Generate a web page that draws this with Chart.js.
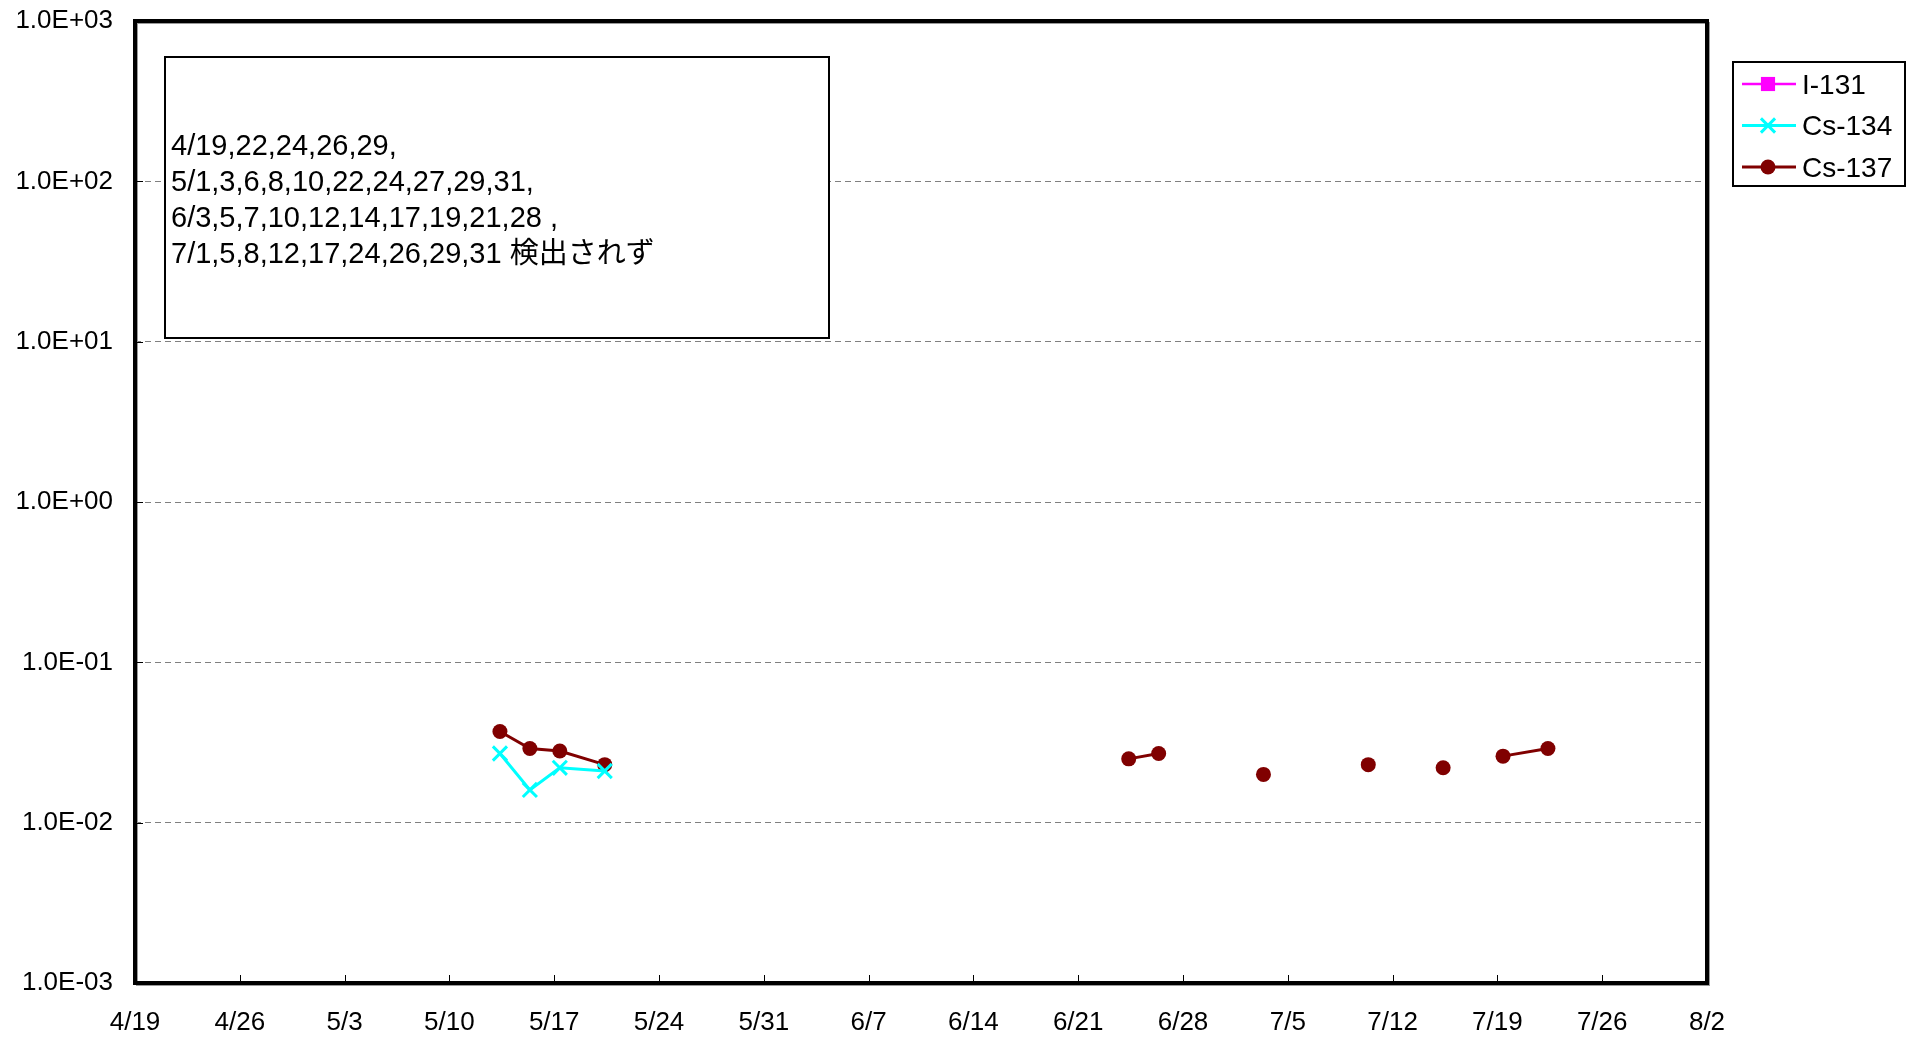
<!DOCTYPE html>
<html lang="ja">
<head>
<meta charset="utf-8">
<title>I-131 / Cs-134 / Cs-137</title>
<script src="https://cdn.jsdelivr.net/npm/chart.js@4/dist/chart.umd.min.js"></script>
<style>
    html, body { margin: 0; padding: 0; background: #fff; }
    #chart { display: block; }
</style>
</head>
<body>
<canvas id="chart" width="1914" height="1041"></canvas>
<script>
'use strict';

// 検出された日と値
var cs137Dates = ['5/13', '5/15', '5/17', '5/20', '6/24', '6/26', '7/3', '7/10', '7/15', '7/19', '7/22'];
var cs137Values = [0.037, 0.029, 0.028, 0.023, 0.025, 0.027, 0.020, 0.023, 0.022, 0.026, 0.029];
var cs134Dates = ['5/13', '5/15', '5/17', '5/20'];
var cs134Values = [0.027, 0.016, 0.022, 0.021];
var i131Dates = [];
var i131Values = [];

// 検出されなかった日 (線を切る)
var ndDates = ['4/19', '4/22', '4/24', '4/26', '4/29',
    '5/1', '5/3', '5/6', '5/8', '5/10', '5/22', '5/24', '5/27', '5/29', '5/31',
    '6/3', '6/5', '6/7', '6/10', '6/12', '6/14', '6/17', '6/19', '6/21', '6/28',
    '7/1', '7/5', '7/8', '7/12', '7/17', '7/24', '7/26', '7/29', '7/31'];

var xTickLabels = ['4/19', '4/26', '5/3', '5/10', '5/17', '5/24', '5/31', '6/7',
    '6/14', '6/21', '6/28', '7/5', '7/12', '7/19', '7/26', '8/2'];
var yTickValues = [1e-3, 1e-2, 1e-1, 1, 10, 100, 1000];
var yTickLabels = ['1.0E-03', '1.0E-02', '1.0E-01', '1.0E+00', '1.0E+01', '1.0E+02', '1.0E+03'];

var noteLines = [
    '4/19,22,24,26,29,',
    '5/1,3,6,8,10,22,24,27,29,31,',
    '6/3,5,7,10,12,14,17,19,21,28 ,',
    '7/1,5,8,12,17,24,26,29,31 検出されず'
];

var sampleHour = 9;
var FONT = '"Liberation Sans", Arial, "Noto Sans CJK JP", sans-serif';

/**
 * 4/19 からの日数
 */
function dayOf(label) {
    var p = label.split('/');
    var base = new Date(2011, 3, 19);
    var d = new Date(2011, parseInt(p[0], 10) - 1, parseInt(p[1], 10));
    return Math.round((d - base) / 86400000);
}

var allDates = ndDates.concat(cs137Dates).filter(function(d, i, arr) {
    return arr.indexOf(d) === i;
}).sort(function(a, b) {
    return dayOf(a) - dayOf(b);
});

function buildSeries(dates, values) {
    return allDates.map(function(d) {
        var i = dates.indexOf(d);
        return {
            x: dayOf(d) + sampleHour / 24,
            y: i >= 0 ? values[i] : null
        };
    });
}

// 枠線と内向きの目盛り
var framePlugin = {
    id: 'frame',
    afterDraw: function(chart) {
        var c = chart.ctx;
        var a = chart.chartArea;
        c.save();
        c.strokeStyle = '#9a9a9a';
        c.lineWidth = 2;
        c.strokeRect(a.left + 2, a.top + 2, a.right - a.left, a.bottom - a.top);
        c.strokeStyle = '#000';
        c.lineWidth = 4;
        c.strokeRect(a.left, a.top, a.right - a.left, a.bottom - a.top);

        c.lineWidth = 1;
        var xs = chart.scales.x;
        xTickLabels.forEach(function(l, i) {
            if (i === 0 || i === xTickLabels.length - 1) return;
            var px = Math.round(xs.getPixelForValue(dayOf(l))) + 0.5;
            c.beginPath();
            c.moveTo(px, a.bottom);
            c.lineTo(px, a.bottom - 8);
            c.stroke();
        });
        var ys = chart.scales.y;
        yTickValues.forEach(function(v, i) {
            if (i === 0 || i === yTickValues.length - 1) return;
            var py = Math.round(ys.getPixelForValue(v)) + 0.5;
            c.beginPath();
            c.moveTo(a.left, py);
            c.lineTo(a.left + 8, py);
            c.stroke();
        });
        c.restore();
    }
};

// 検出されずの注記
var notePlugin = {
    id: 'note',
    afterDraw: function(chart) {
        var c = chart.ctx;
        c.save();
        c.fillStyle = '#fff';
        c.fillRect(165, 57, 664, 281);
        c.strokeStyle = '#000';
        c.lineWidth = 2;
        c.strokeRect(165, 57, 664, 281);
        c.fillStyle = '#000';
        c.font = '29px ' + FONT;
        c.textBaseline = 'middle';
        noteLines.forEach(function(t, i) {
            c.fillText(t, 171, 146.5 + i * 36);
        });
        c.restore();
    }
};

// 凡例
var legendPlugin = {
    id: 'customLegend',
    afterDraw: function(chart) {
        var c = chart.ctx;
        c.save();
        c.fillStyle = '#fff';
        c.fillRect(1733, 62, 172, 124);
        c.strokeStyle = '#000';
        c.lineWidth = 2;
        c.strokeRect(1733, 62, 172, 124);
        c.font = '28px ' + FONT;
        c.textBaseline = 'middle';
        chart.data.datasets.forEach(function(ds, i) {
            var y = 84 + i * 41.5;
            c.strokeStyle = ds.borderColor;
            c.lineWidth = ds.borderWidth;
            c.beginPath();
            c.moveTo(1742, y);
            c.lineTo(1796, y);
            c.stroke();
            c.fillStyle = ds.pointBackgroundColor;
            c.lineWidth = ds.pointBorderWidth;
            Chart.helpers.drawPoint(c, {
                pointStyle: ds.pointStyle,
                radius: ds.pointRadius,
                borderWidth: ds.pointBorderWidth,
                rotation: 0
            }, 1768, y);
            c.fillStyle = '#000';
            c.fillText(ds.label, 1802, y + 2);
        });
        c.restore();
    }
};

var ctx = document.getElementById('chart');

new Chart(ctx, {
    type: 'line',
    data: {
        datasets: [{
            label: 'I-131',
            data: buildSeries(i131Dates, i131Values),
            borderColor: '#FF00FF',
            backgroundColor: '#FF00FF',
            pointBackgroundColor: '#FF00FF',
            pointBorderColor: '#FF00FF',
            pointStyle: 'rect',
            pointRadius: 10,
            pointBorderWidth: 0,
            borderWidth: 2.5
        }, {
            label: 'Cs-134',
            data: buildSeries(cs134Dates, cs134Values),
            borderColor: '#00FFFF',
            backgroundColor: '#00FFFF',
            pointBackgroundColor: '#00FFFF',
            pointBorderColor: '#00FFFF',
            pointStyle: 'crossRot',
            pointRadius: 10,
            pointBorderWidth: 3,
            borderWidth: 3
        }, {
            label: 'Cs-137',
            data: buildSeries(cs137Dates, cs137Values),
            borderColor: '#800000',
            backgroundColor: '#800000',
            pointBackgroundColor: '#800000',
            pointBorderColor: '#800000',
            pointStyle: 'circle',
            pointRadius: 7.5,
            pointBorderWidth: 0,
            borderWidth: 3
        }]
    },
    options: {
        responsive: false,
        animation: false,
        devicePixelRatio: 1,
        layout: {
            padding: { left: 0, right: 207, top: 21, bottom: 0 }
        },
        elements: {
            line: { tension: 0 }
        },
        plugins: {
            legend: { display: false },
            tooltip: { enabled: false }
        },
        scales: {
            x: {
                type: 'linear',
                min: 0,
                max: dayOf('8/2'),
                afterBuildTicks: function(scale) {
                    scale.ticks = xTickLabels.map(function(l) {
                        return { value: dayOf(l) };
                    });
                },
                afterFit: function(scale) {
                    scale.height = 58;
                    scale.paddingLeft = 0;
                    scale.paddingRight = 0;
                },
                grid: { display: false, drawTicks: false },
                border: { display: false },
                ticks: {
                    padding: 24,
                    color: '#000',
                    maxRotation: 0,
                    autoSkip: false,
                    font: { family: FONT, size: 26 },
                    callback: function(value, index) {
                        return xTickLabels[index];
                    }
                }
            },
            y: {
                type: 'logarithmic',
                min: 1e-3,
                max: 1e3,
                afterBuildTicks: function(scale) {
                    scale.ticks = yTickValues.map(function(v) {
                        return { value: v };
                    });
                },
                afterFit: function(scale) {
                    scale.width = 135;
                    scale.paddingTop = 0;
                    scale.paddingBottom = 0;
                },
                grid: {
                    drawTicks: false,
                    lineWidth: 1,
                    color: function(c) {
                        var v = c.tick ? c.tick.value : 0;
                        if (v <= 1e-3 || v >= 1e3) return 'rgba(0,0,0,0)';
                        return '#808080';
                    }
                },
                border: { display: false, dash: [6, 4] },
                ticks: {
                    padding: 22,
                    color: '#000',
                    autoSkip: false,
                    font: { family: FONT, size: 26 },
                    callback: function(value, index) {
                        return yTickLabels[index];
                    }
                }
            }
        }
    },
    plugins: [framePlugin, notePlugin, legendPlugin]
});
</script>
</body>
</html>
